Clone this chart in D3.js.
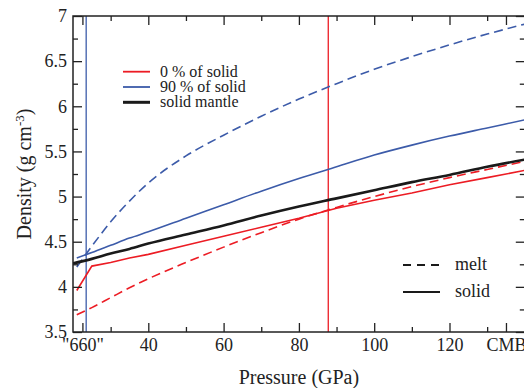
<!DOCTYPE html>
<html><head><meta charset="utf-8">
<script src="https://cdn.jsdelivr.net/npm/d3@7"></script>
<style>
body{margin:0;background:#fff;}
svg text{font-family:"Liberation Serif","DejaVu Serif","Times New Roman",serif !important;fill:#222;}
</style></head>
<body><svg id="c" width="524" height="388"></svg>
<script>
// ---- data ----
const pressure = [21, 25, 30, 35, 40, 50, 60, 70, 80, 90, 100, 110, 120, 130, 140];
const blackPressure = [20, 25, 30, 35, 40, 50, 60, 70, 80, 90, 100, 110, 120, 130, 140];
const melt0   = [3.69, 3.77, 3.88, 3.99, 4.09, 4.27, 4.44, 4.60, 4.75, 4.88, 5.00, 5.11, 5.21, 5.30, 5.39];
const solid0  = [3.96, 4.23, 4.27, 4.32, 4.36, 4.46, 4.56, 4.66, 4.76, 4.87, 4.96, 5.04, 5.13, 5.21, 5.29];
const melt90  = [4.22, 4.45, 4.72, 4.95, 5.15, 5.45, 5.68, 5.89, 6.08, 6.25, 6.41, 6.55, 6.68, 6.80, 6.91];
const solid90 = [4.32, 4.38, 4.46, 4.54, 4.61, 4.76, 4.91, 5.06, 5.20, 5.33, 5.46, 5.57, 5.67, 5.76, 5.85];
const solidMantle = [4.26, 4.31, 4.37, 4.42, 4.48, 4.58, 4.68, 4.79, 4.89, 4.98, 5.07, 5.16, 5.24, 5.33, 5.41];
const xMajorTicks = [22.5, 40, 60, 80, 100, 120, 135];
const xMajorLabels = ['"660"', '40', '60', '80', '100', '120', 'CMB'];
const xMinorTicks = [30, 50, 70, 90, 110, 130];
const yMajorTicks = [3.5, 4, 4.5, 5, 5.5, 6, 6.5, 7];
const yMajorLabels = ['3.5', '4', '4.5', '5', '5.5', '6', '6.5', '7'];
const yMinorTicks = [3.75, 4.25, 4.75, 5.25, 5.75, 6.25, 6.75];
const markerLines = [23.5, 87.8];
const legendLabels = ['0 % of solid', '90 % of solid', 'solid mantle'];
const styleLabels = ['melt', 'solid'];

// ---- layout ----
const FONT = '"Liberation Serif","DejaVu Serif","Times New Roman",serif';
const RED = '#ec1c24', BLUE = '#3c5ba9', BLACK = '#1a1a1a';
const svg = d3.select('#c');
const L = 73, R = 524.8, T = 16, B = 332;
const x = d3.scaleLinear().domain([20, 140]).range([L, R]);
const y = d3.scaleLinear().domain([3.5, 7]).range([B, T]);

svg.append('defs').append('clipPath').attr('id', 'clip')
  .append('rect').attr('x', L).attr('y', T).attr('width', R - L).attr('height', B - T);

const plot = svg.append('g').attr('clip-path', 'url(#clip)');

// vertical markers
plot.append('line').attr('x1', x(markerLines[0])).attr('x2', x(markerLines[0]))
  .attr('y1', T).attr('y2', B).attr('stroke', BLUE).attr('stroke-width', 1.3);
plot.append('line').attr('x1', x(markerLines[1])).attr('x2', x(markerLines[1]))
  .attr('y1', T).attr('y2', B).attr('stroke', RED).attr('stroke-width', 1.3);

function series(px, vals, color, width, dash, curve) {
  const line = d3.line().x(d => x(d[0])).y(d => y(d[1])).curve(curve || d3.curveMonotoneX);
  plot.append('path').datum(px.map((p, i) => [p, vals[i]]))
    .attr('d', line).attr('fill', 'none').attr('stroke', color)
    .attr('stroke-width', width).attr('stroke-dasharray', dash || null);
}
series(pressure, melt0, RED, 1.6, '9,5');
series(pressure, solid0, RED, 1.6, null, d3.curveLinear);
series(pressure, melt90, BLUE, 1.6, '9,5');
series(pressure, solid90, BLUE, 1.6);
series(blackPressure, solidMantle, BLACK, 2.6);

// ---- axes ----
function styleAxis(g) {
  g.attr('font-family', FONT);
  g.select('.domain').remove();
  g.selectAll('.tick line').attr('stroke', '#222').attr('stroke-width', 1.3);
  g.selectAll('text').style('font-size', '18px').attr('fill', '#222')
    .style('font-family', FONT);
}
svg.append('g').attr('transform', `translate(0,${B})`)
  .call(d3.axisBottom(x).tickValues(xMajorTicks).tickSize(-9).tickPadding(6)
    .tickFormat((d, i) => xMajorLabels[i])).call(styleAxis);
svg.append('g').attr('transform', `translate(0,${B})`)
  .call(d3.axisBottom(x).tickValues(xMinorTicks).tickSize(-5).tickFormat('')).call(styleAxis);
svg.append('g').attr('transform', `translate(0,${T})`)
  .call(d3.axisTop(x).tickValues(xMajorTicks).tickSize(-9).tickFormat('')).call(styleAxis);
svg.append('g').attr('transform', `translate(0,${T})`)
  .call(d3.axisTop(x).tickValues(xMinorTicks).tickSize(-5).tickFormat('')).call(styleAxis);
svg.append('g').attr('transform', `translate(${L},0)`)
  .call(d3.axisLeft(y).tickValues(yMajorTicks).tickSize(-9).tickPadding(6)
    .tickFormat((d, i) => yMajorLabels[i])).call(styleAxis);
svg.append('g').attr('transform', `translate(${L},0)`)
  .call(d3.axisLeft(y).tickValues(yMinorTicks).tickSize(-5).tickFormat('')).call(styleAxis);
svg.append('g').attr('transform', `translate(${R},0)`)
  .call(d3.axisRight(y).tickValues(yMajorTicks).tickSize(-9).tickFormat('')).call(styleAxis);
svg.append('g').attr('transform', `translate(${R},0)`)
  .call(d3.axisRight(y).tickValues(yMinorTicks).tickSize(-5).tickFormat('')).call(styleAxis);

svg.append('rect').attr('x', L).attr('y', T).attr('width', R - L).attr('height', B - T)
  .attr('fill', 'none').attr('stroke', '#222').attr('stroke-width', 1.5);

// axis titles
svg.append('text').attr('x', (L + R) / 2).attr('y', 384).attr('text-anchor', 'middle')
  .style('font-family', FONT).style('font-size', '20px').text('Pressure (GPa)');
const yt = svg.append('text').attr('transform', `translate(31,${(T + B) / 2}) rotate(-90)`)
  .attr('text-anchor', 'middle').style('font-family', FONT).style('font-size', '20px');
yt.append('tspan').text('Density (g cm');
yt.append('tspan').attr('dy', -7).style('font-size', '13px').text('-3');
yt.append('tspan').attr('dy', 7).text(')');

// legend (top-left)
const legColors = [RED, BLUE, BLACK];
const legWidths = [1.8, 1.8, 3];
legendLabels.forEach((lab, i) => {
  const ly = 71.7 + i * 15.3;
  svg.append('line').attr('x1', 123).attr('x2', 150).attr('y1', ly).attr('y2', ly)
    .attr('stroke', legColors[i]).attr('stroke-width', legWidths[i]);
  svg.append('text').attr('x', 160).attr('y', ly + 5).style('font-family', FONT)
    .style('font-size', '16px').text(lab);
});

// legend (bottom-right)
styleLabels.forEach((lab, i) => {
  const ly = 265 + i * 27;
  svg.append('line').attr('x1', 403).attr('x2', 440).attr('y1', ly).attr('y2', ly)
    .attr('stroke', BLACK).attr('stroke-width', 1.8)
    .attr('stroke-dasharray', i === 0 ? '8,6' : null);
  svg.append('text').attr('x', 455).attr('y', ly + 5).style('font-family', FONT)
    .style('font-size', '18px').text(lab);
});
</script></body></html>
